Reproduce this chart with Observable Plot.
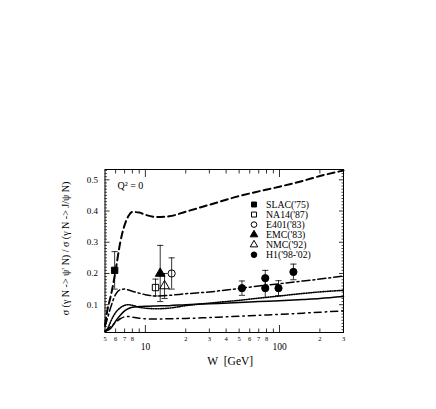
<!DOCTYPE html>
<html><head><meta charset="utf-8">
<script src="https://cdn.jsdelivr.net/npm/d3@7"></script>
<script src="https://cdn.jsdelivr.net/npm/@observablehq/plot@0.6"></script>
<style>body{margin:0;background:#fff} svg{display:block}</style>
</head><body><div id="chart"></div>
<script>
// ---- model curves (W grid shared) ----
const gridW     = [5, 5.25, 5.5, 5.75, 6, 6.5, 7, 7.5, 8, 9, 10, 12, 15, 20, 30, 50, 70, 100, 150, 200, 300];
const dashedR   = [0.035, 0.09, 0.125, 0.165, 0.21, 0.30, 0.355, 0.385, 0.397, 0.395, 0.388, 0.381, 0.383, 0.398, 0.42, 0.448, 0.463, 0.478, 0.497, 0.512, 0.53];
const dashDotR  = [0.03, 0.06, 0.09, 0.115, 0.133, 0.148, 0.150, 0.147, 0.143, 0.137, 0.132, 0.128, 0.130, 0.135, 0.141, 0.152, 0.160, 0.167, 0.176, 0.182, 0.192];
const dottedR   = [0.015, 0.025, 0.045, 0.062, 0.075, 0.09, 0.098, 0.100, 0.098, 0.092, 0.089, 0.087, 0.089, 0.097, 0.105, 0.114, 0.121, 0.128, 0.136, 0.141, 0.146];
const solidR    = [0.015, 0.018, 0.024, 0.035, 0.047, 0.066, 0.080, 0.088, 0.092, 0.094, 0.095, 0.096, 0.097, 0.100, 0.103, 0.107, 0.110, 0.113, 0.117, 0.120, 0.126];
const lowerR    = [0.015, 0.02, 0.03, 0.037, 0.043, 0.055, 0.061, 0.062, 0.060, 0.057, 0.055, 0.054, 0.055, 0.056, 0.059, 0.063, 0.066, 0.069, 0.073, 0.076, 0.080];

// ---- measurements ----
const expNames = ["SLAC('75)", "NA14('87)", "E401('83)", "EMC('83)", "NMC('92)", "H1('98-'02)"];
const expSymbol = ["square", "square", "circle", "triangle", "triangle", "circle"];
const expFilled = [true, false, false, true, false, true];
const ptW   = [5.9, 11.9, 15.7, 12.9, 13.9, 52.5, 78.3, 78.3, 98.3, 127];
const ptR   = [0.21, 0.155, 0.20, 0.20, 0.16, 0.153, 0.185, 0.153, 0.153, 0.205];
const ptErr = [0.06, 0.027, 0.05, 0.09, 0.04, 0.023, 0.025, 0.03, 0.024, 0.025];
const ptExp = [0, 1, 2, 3, 4, 5, 5, 5, 5, 5];

// ---- ticks ----
const xMinorTicks = [6, 7, 8, 9, 20, 30, 40, 50, 60, 70, 80, 90, 200];
const xMajorTicks = [10, 100];
const xMinorLabels = [5, 6, 7, 8, 20, 30, 40, 50, 60, 70, 80, 200, 300];
const yMajorTicks = [0.1, 0.2, 0.3, 0.4, 0.5];
const yMinorTicks = d3.range(2, 54).map(i => i / 100).filter(v => Math.round(v * 100) % 10 !== 0);

const xLabel = "W  [GeV]";
const yLabel = "σ (γ N -> ψ' N) / σ (γ N -> J/ψ N)";
const note = "Q² = 0";

const points = ptW.map((w, i) => ({W: w, r: ptR[i], lo: ptR[i] - ptErr[i], hi: ptR[i] + ptErr[i], e: ptExp[i]}));
const mk = vals => gridW.map((w, i) => ({W: w, r: vals[i]}));

const capSymbol = {draw(ctx, size) { const w = Math.sqrt(size) / 2; ctx.moveTo(-w, 0); ctx.lineTo(w, 0); }};

const font = "Liberation Serif";
const marks = [];
// curves
marks.push(Plot.line(mk(dashedR), {x: "W", y: "r", stroke: "black", strokeWidth: 2, strokeDasharray: "7,4", curve: "monotone-x"}));
marks.push(Plot.line(mk(dashDotR), {x: "W", y: "r", stroke: "black", strokeWidth: 1.5, strokeDasharray: "8,3,2,3", curve: "monotone-x"}));
marks.push(Plot.line(mk(dottedR), {x: "W", y: "r", stroke: "black", strokeWidth: 1.6, strokeDasharray: "1,1.4", curve: "monotone-x"}));
marks.push(Plot.line(mk(solidR), {x: "W", y: "r", stroke: "black", strokeWidth: 1.5, curve: "monotone-x"}));
marks.push(Plot.line(mk(lowerR), {x: "W", y: "r", stroke: "black", strokeWidth: 1.5, strokeDasharray: "7,4,1.5,4", curve: "monotone-x"}));
// error bars
marks.push(Plot.ruleX(points, {x: "W", y1: "lo", y2: "hi", stroke: "black", strokeWidth: 0.8}));
marks.push(Plot.dot(points, {x: "W", y: "lo", symbol: capSymbol, r: 3.5, stroke: "black", strokeWidth: 0.8}));
marks.push(Plot.dot(points, {x: "W", y: "hi", symbol: capSymbol, r: 3.5, stroke: "black", strokeWidth: 0.8}));
// points per experiment
expNames.forEach((name, k) => {
  const pts = points.filter(p => p.e === k);
  marks.push(Plot.dot(pts, {x: "W", y: "r", symbol: expSymbol[k], r: 3.6,
    fill: expFilled[k] ? "black" : "none", stroke: "black", strokeWidth: 1}));
  // legend
  marks.push(Plot.dot([name], {frameAnchor: "top-left", dx: 149, dy: 35 + k * 10.05, symbol: expSymbol[k], r: 2.8,
    fill: expFilled[k] ? "black" : "none", stroke: "black", strokeWidth: 1}));
  marks.push(Plot.text([name], {frameAnchor: "top-left", dx: 161, dy: 35 + k * 10.05, text: d => d,
    textAnchor: "start", lineAnchor: "middle", fontSize: 9.8, fontFamily: font}));
});
// frame and axes
marks.push(Plot.frame({stroke: "black", strokeWidth: 1}));
for (const anchor of ["bottom", "top"]) {
  marks.push(Plot.axisX(xMinorTicks, {anchor, tickSize: -3.5, text: null, label: null, strokeWidth: 0.8}));
  marks.push(Plot.axisX(xMajorTicks, {anchor, tickSize: -7, text: null, label: null, strokeWidth: 0.8}));
}
for (const anchor of ["left", "right"]) {
  marks.push(Plot.axisY(yMinorTicks, {anchor, tickSize: -2.5, text: null, label: null, strokeWidth: 0.7}));
  marks.push(Plot.axisY(yMajorTicks, {anchor, tickSize: -5, text: null, label: null, strokeWidth: 0.8}));
}
marks.push(Plot.text(xMinorLabels, {x: d => d, frameAnchor: "bottom", dy: 6.5, text: d => String(d)[0],
  textAnchor: "middle", lineAnchor: "middle", fontSize: 6.5, fontFamily: font}));
marks.push(Plot.text(xMajorTicks, {x: d => d, frameAnchor: "bottom", dy: 14, text: d => String(d),
  textAnchor: "middle", lineAnchor: "middle", fontSize: 9.5, fontFamily: font}));
marks.push(Plot.text(yMajorTicks, {y: d => d, frameAnchor: "left", dx: -7, text: d => d.toFixed(1),
  textAnchor: "end", lineAnchor: "middle", fontSize: 9, fontFamily: font}));
// labels
marks.push(Plot.text([xLabel], {frameAnchor: "bottom", dx: 6, dy: 29, text: d => d,
  textAnchor: "middle", lineAnchor: "middle", fontSize: 11.5, fontFamily: font}));
marks.push(Plot.text([yLabel], {frameAnchor: "left", dx: -39, dy: -2.5, rotate: -90, text: d => d,
  textAnchor: "middle", lineAnchor: "middle", fontSize: 10, fontFamily: font}));
marks.push(Plot.text([note], {frameAnchor: "top-left", dx: 12.5, dy: 16, text: d => d,
  textAnchor: "start", lineAnchor: "middle", fontSize: 10, fontFamily: font}));

const chart = Plot.plot({
  width: 436, height: 409,
  marginLeft: 104.5, marginRight: 93, marginTop: 169, marginBottom: 77,
  x: {type: "log", domain: [5, 300]},
  y: {domain: [0.011, 0.533]},
  style: {fontFamily: font, background: "white", color: "black"},
  marks
});
document.getElementById("chart").append(chart);
</script>
</body></html>
